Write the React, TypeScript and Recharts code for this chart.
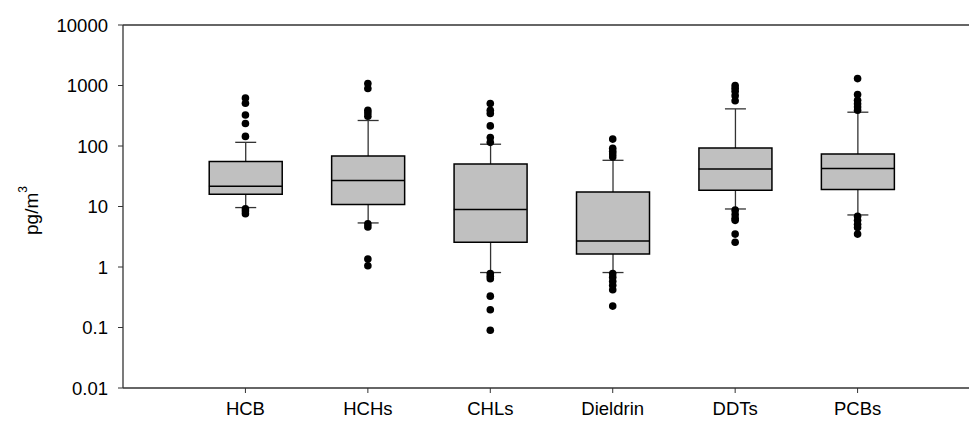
import React from 'react';
import {Bar, ComposedChart, ReferenceLine, Scatter, XAxis, YAxis} from 'recharts';

// five-number summaries per compound group (pg/m3)
const categories = ['HCB', 'HCHs', 'CHLs', 'Dieldrin', 'DDTs', 'PCBs'];
const whiskerLow = [9.6, 5.35, 0.81, 0.81, 9.1, 7.25];
const quartile1 = [15.9, 10.8, 2.56, 1.64, 18.6, 19.1];
const medians = [21.6, 26.9, 8.9, 2.69, 41.8, 42.5];
const quartile3 = [55.4, 68.6, 50.6, 17.4, 93, 74];
const whiskerHigh = [115, 264, 107, 58, 411, 362];
const outliers = [
    [620, 510, 325, 235, 144, 9.2, 8.4, 7.6],
    [1080, 890, 390, 350, 310, 5.2, 4.6, 1.35, 1.05],
    [505, 390, 345, 215, 138, 115, 0.78, 0.7, 0.64, 0.33, 0.197, 0.09],
    [130, 92, 82, 74, 66, 0.78, 0.68, 0.58, 0.5, 0.42, 0.226],
    [1000, 900, 800, 680, 560, 8.7, 7.4, 6.4, 5.9, 3.5, 2.56],
    [1300, 710, 570, 500, 440, 390, 6.9, 5.9, 5.1, 4.5, 3.5],
];
const yTicks = [0.01, 0.1, 1, 10, 100, 1000, 10000];
const xTicks = [1, 2, 3, 4, 5, 6];

const FONT = '"Liberation Sans", Arial, sans-serif';
const TICK_FONT = 18.5;
const BOX_WIDTH = 73;
const CAP_WIDTH = 21;
const X_DOMAIN: [number, number] = [0, 6.91];

const boxData = categories.map((name, i) => ({
    pos: i + 1,
    name,
    lo: whiskerLow[i],
    q1: quartile1[i],
    med: medians[i],
    q3: quartile3[i],
    hi: whiskerHigh[i],
}));
const medianData = boxData.map(d => ({pos: d.pos, v: d.med}));
const outlierData = outliers.flatMap((vals, i) => vals.map(v => ({pos: i + 1, v})));

const WhiskerShape = (props: any) => {
    const {x, y, width, height} = props;
    const cx = x + width / 2;
    return (
        <g stroke="#333" strokeWidth={1.3}>
            <line x1={cx} x2={cx} y1={y} y2={y + height}/>
            <line x1={x} x2={x + width} y1={y} y2={y}/>
            <line x1={x} x2={x + width} y1={y + height} y2={y + height}/>
        </g>
    );
};

const MedianShape = (props: any) => {
    const {cx, cy} = props;
    return <line x1={cx - BOX_WIDTH / 2} x2={cx + BOX_WIDTH / 2} y1={cy} y2={cy} stroke="#000" strokeWidth={1.5}/>;
};

const DotShape = (props: any) => <circle cx={props.cx} cy={props.cy} r={3.8} fill="#000"/>;

const YLabel = (props: any) => {
    const vb = props.viewBox;
    const cx = vb.x + 31;
    const cy = vb.y + vb.height / 2 + 4;
    return (
        <text x={cx} y={cy} transform={`rotate(-90 ${cx} ${cy})`} textAnchor="middle"
              dominantBaseline="central" fontSize={19} fill="#000" fontFamily={FONT}>
            <tspan>pg/m</tspan>
            <tspan dy={-8} fontSize={12}>3</tspan>
        </text>
    );
};

export default function App() {
    return (
        <div style={{position: 'absolute', left: 0, top: 0, background: '#fff'}}>
            <ComposedChart width={969} height={426} data={boxData}
                           margin={{top: 25, right: 0, bottom: 0, left: 0}}
                           style={{fontFamily: FONT}}>
                <XAxis xAxisId="main" dataKey="pos" type="number" domain={X_DOMAIN} ticks={xTicks}
                       allowDataOverflow interval={0} height={38} tickSize={5} tickMargin={9}
                       tickFormatter={(v: number) => categories[v - 1] ?? ''}
                       tick={{fontSize: TICK_FONT, fill: '#000'}}
                       axisLine={{stroke: '#333', strokeWidth: 1.3}} tickLine={{stroke: '#333'}}/>
                <XAxis xAxisId="cap" dataKey="pos" type="number" domain={X_DOMAIN} allowDataOverflow
                       hide height={0}/>
                <YAxis scale="log" domain={[0.01, 10000]} ticks={yTicks} allowDataOverflow interval={0}
                       width={123} tickSize={5} tickMargin={10}
                       tick={{fontSize: TICK_FONT, fill: '#000'}}
                       axisLine={{stroke: '#333', strokeWidth: 1.3}} tickLine={{stroke: '#333'}}
                       label={<YLabel/>}/>
                <ReferenceLine xAxisId="main" y={10000} stroke="#333" strokeWidth={1.3} ifOverflow="visible"/>

                <Bar xAxisId="cap" dataKey={(d: any) => [d.lo, d.hi]} barSize={CAP_WIDTH}
                     shape={<WhiskerShape/>} isAnimationActive={false}/>
                <Bar xAxisId="main" dataKey={(d: any) => [d.q1, d.q3]} barSize={BOX_WIDTH}
                     fill="#c0c0c0" stroke="#000" strokeWidth={1.5} isAnimationActive={false}/>
                <Scatter xAxisId="main" data={medianData} dataKey="v" shape={<MedianShape/>}
                         isAnimationActive={false}/>
                <Scatter xAxisId="main" data={outlierData} dataKey="v" shape={<DotShape/>}
                         isAnimationActive={false}/>
            </ComposedChart>
        </div>
    );
}
